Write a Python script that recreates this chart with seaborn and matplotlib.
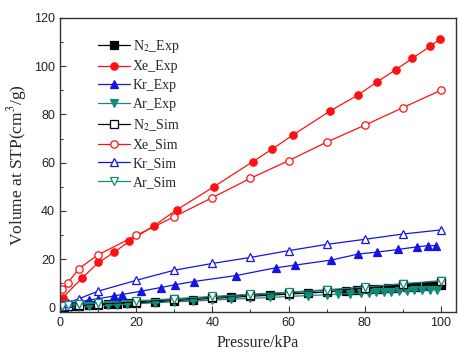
import matplotlib
matplotlib.use("Agg")
import matplotlib.pyplot as plt
import seaborn as sns
import pandas as pd
from matplotlib.ticker import MultipleLocator

sns.set_style("ticks")
plt.rcParams['font.family'] = ['Liberation Serif', 'DejaVu Serif']
plt.rcParams['mathtext.fontset'] = 'stix'

# ---- data ----
n2_exp_x = [1, 3, 5, 7.5, 10, 12.5, 15, 17.5, 20, 25, 30, 35, 40, 45, 50, 55, 60, 65, 70,
            75, 78, 81, 83.5, 86, 88.5, 91, 93.5, 96, 98, 100]
n2_exp_y = [0.2, 0.4, 0.6, 0.8, 1.0, 1.2, 1.4, 1.6, 1.9, 2.3, 2.8, 3.2, 3.7, 4.1, 4.6, 5.0, 5.5, 5.9, 6.4,
            6.9, 7.2, 7.5, 7.7, 8.0, 8.2, 8.4, 8.6, 8.9, 9.1, 9.3]

xe_exp_x = [0.7, 5.7, 10.1, 14.2, 18.2, 24.7, 30.7, 40.4, 50.6, 55.6, 61.1, 71.0, 78.2, 83.1, 88.1,
            92.5, 97.1, 99.8]
xe_exp_y = [4.0, 12.0, 18.6, 22.8, 27.4, 33.9, 40.5, 50.0, 60.4, 65.5, 71.4, 81.5, 88.0, 93.3, 98.5,
            103.2, 108.2, 111.2]

kr_exp_x = [0.5, 3.0, 5.5, 7.7, 10.1, 14.1, 16.2, 21.3, 26.4, 30.3, 35.1, 46.3, 56.6, 61.7, 71.2,
            78.3, 83.2, 88.8, 93.7, 96.7, 98.7]
kr_exp_y = [0.8, 1.3, 2.4, 3.1, 3.6, 4.7, 5.3, 6.7, 8.2, 9.4, 10.7, 13.2, 16.4, 17.5, 19.6,
            22.1, 22.9, 24.0, 25.1, 25.6, 25.6]

ar_exp_x = [1, 3, 5, 7.5, 10, 12.5, 15, 17.5, 20, 25, 30, 35, 40, 45, 50, 55, 60, 65, 70,
            73, 76, 79, 81, 83, 85, 87, 89, 91, 93, 95, 97, 99]
ar_exp_y = [0.1, 0.2, 0.3, 0.5, 0.7, 0.9, 1.1, 1.3, 1.5, 1.9, 2.3, 2.6, 3.0, 3.4, 3.7, 4.1, 4.5, 4.9, 5.2,
            5.5, 5.7, 5.9, 6.0, 6.2, 6.4, 6.5, 6.7, 6.8, 7.0, 7.1, 7.3, 7.4]

sim_x = [0.5, 2, 5, 10, 20, 30, 40, 50, 60, 70, 80, 90, 100]
n2_sim_y = [0.2, 0.5, 0.9, 1.4, 2.3, 3.3, 4.3, 5.2, 6.1, 7.1, 8.2, 9.6, 10.8]
xe_sim_y = [7.5, 10.1, 16.1, 21.8, 29.8, 37.6, 45.5, 53.5, 60.8, 68.5, 75.5, 82.8, 90.0]
kr_sim_y = [0.7, 1.8, 3.6, 6.7, 11.2, 15.4, 18.2, 20.7, 23.5, 26.1, 28.2, 30.4, 32.1]
ar_sim_y = [0.5, 0.8, 1.2, 1.8, 2.7, 3.6, 4.5, 5.4, 6.3, 7.3, 8.4, 9.8, 11.0]

labels = ['N$_2$_Exp', 'Xe_Exp', 'Kr_Exp', 'Ar_Exp', 'N$_2$_Sim', 'Xe_Sim', 'Kr_Sim', 'Ar_Sim']

BLACK = '#000000'
RED = '#ff1010'
BLUE = '#1414e6'
TEAL = '#138a7a'

series = [
    (n2_exp_x, n2_exp_y, BLACK, 's', True),
    (xe_exp_x, xe_exp_y, RED, 'o', True),
    (kr_exp_x, kr_exp_y, BLUE, '^', True),
    (ar_exp_x, ar_exp_y, TEAL, 'v', True),
    (sim_x, n2_sim_y, BLACK, 's', False),
    (sim_x, xe_sim_y, RED, 'o', False),
    (sim_x, kr_sim_y, BLUE, '^', False),
    (sim_x, ar_sim_y, TEAL, 'v', False),
]

fig = plt.figure(figsize=(4.58, 3.58), dpi=100)
ax = fig.add_axes([0.131, 0.128, 0.865, 0.822])

for (xs, ys, col, mk, filled), lab in zip(series, labels):
    df = pd.DataFrame({'x': xs, 'y': ys})
    sns.lineplot(data=df, x='x', y='y', ax=ax, color=col, marker=mk, markersize=5.3,
                 markerfacecolor=(col if filled else 'white'), markeredgecolor=col,
                 markeredgewidth=0.9, linewidth=0.9, label=lab, errorbar=None, sort=False)

ax.set_xlim(0, 104)
ax.set_ylim(-2, 120)
ax.xaxis.set_major_locator(MultipleLocator(20))
ax.xaxis.set_minor_locator(MultipleLocator(10))
ax.yaxis.set_major_locator(MultipleLocator(20))
ax.yaxis.set_minor_locator(MultipleLocator(10))
ax.tick_params(which='both', direction='in', top=False, right=False, colors='#333333')
ax.tick_params(which='major', length=4.5, width=0.8, labelsize=9,
               labelfontfamily='Liberation Sans', labelcolor='#222222')
ax.tick_params(which='minor', length=2.5, width=0.7)
for sp in ax.spines.values():
    sp.set_linewidth(1.0)
    sp.set_color('#333333')

ax.set_xlabel('Pressure/kPa', fontsize=11.5)
ax.set_ylabel('Volume at STP(cm$^3$/g)', fontsize=12.5)

leg = ax.legend(loc='upper left', bbox_to_anchor=(0.082, 0.952), frameon=False, fontsize=10,
                handlelength=2.3, handletextpad=0.2, labelspacing=0.42, borderaxespad=0)

fig.savefig('out.png', dpi=100)
